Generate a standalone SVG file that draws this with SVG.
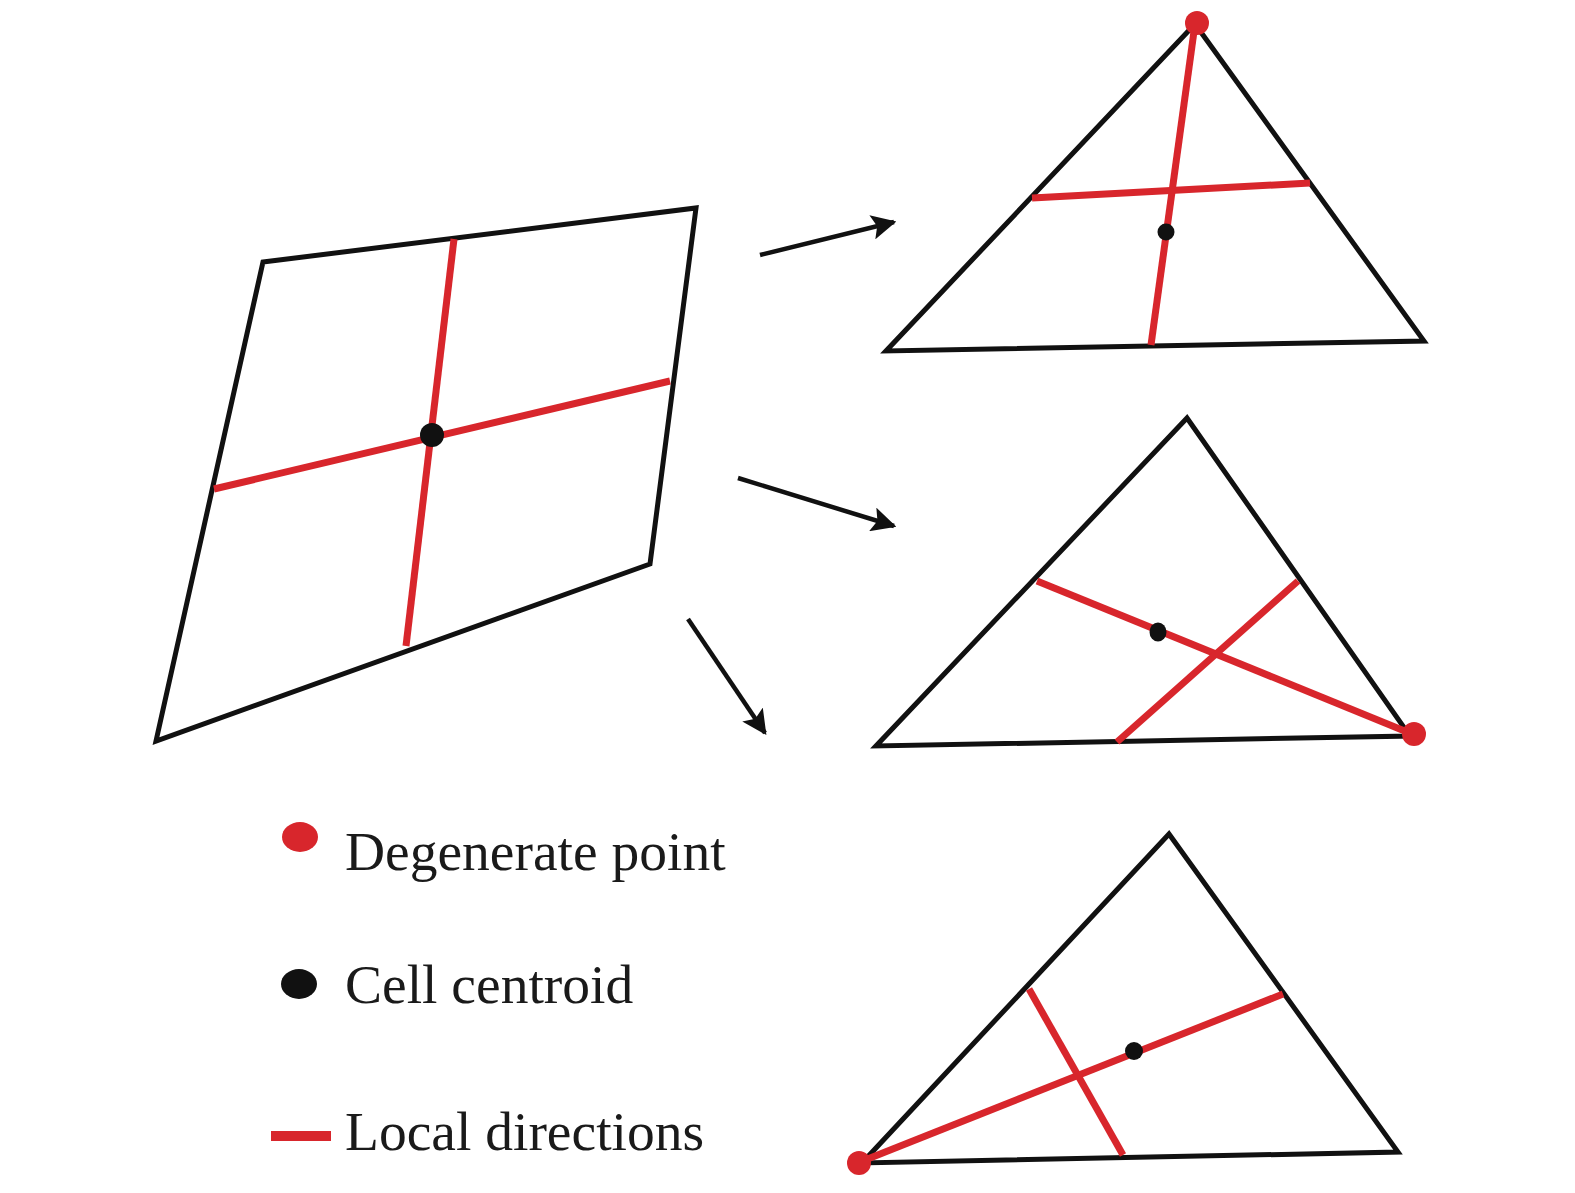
<svg xmlns="http://www.w3.org/2000/svg" width="1575" height="1193" viewBox="0 0 1575 1193">
<defs>
<style>
.cell{fill:none;stroke:#111;stroke-width:5;stroke-linejoin:miter}
.dir{stroke:#d8262c;stroke-width:7;stroke-linecap:butt}
.deg{fill:#d8262c}
.cen{fill:#111}
.arr{stroke:#111;stroke-width:4.5;fill:none}
.lbl{font-family:"Liberation Serif","Times New Roman",serif;font-size:55.5px;fill:#1a1a1a}
</style>
<marker id="ah" viewBox="0 0 10 10" refX="9" refY="5" markerWidth="5.5" markerHeight="5.5" markerUnits="strokeWidth" orient="auto">
<path d="M0,0 L10,5 L0,10 L2,5 Z" fill="#111"/>
</marker>
</defs>
<rect width="1575" height="1193" fill="#fff"/>

<g id="quad">
<polygon class="cell" points="263,262 696,208 650,564 156,741"/>
<line class="dir" x1="454" y1="239" x2="406" y2="646"/>
<line class="dir" x1="214" y1="489" x2="670" y2="381"/>
<circle class="cen" cx="432" cy="435" r="12"/>
</g>

<g id="tri1">
<polygon class="cell" points="1195,24 886,351 1424,341"/>
<line class="dir" x1="1195" y1="24" x2="1151" y2="345"/>
<line class="dir" x1="1032" y1="198" x2="1310" y2="183"/>
<circle class="cen" cx="1166" cy="232" r="8.5"/>
<circle class="deg" cx="1197" cy="23" r="12"/>
</g>

<g id="tri2">
<polygon class="cell" points="1187,418 876,746 1410,736"/>
<line class="dir" x1="1037" y1="581" x2="1412" y2="734"/>
<line class="dir" x1="1298" y1="581" x2="1117" y2="742"/>
<ellipse class="cen" cx="1158" cy="632" rx="8.5" ry="9.5"/>
<circle class="deg" cx="1414" cy="734" r="12"/>
</g>

<g id="tri3">
<polygon class="cell" points="1169,834 862,1163 1398,1152"/>
<line class="dir" x1="860" y1="1162" x2="1283" y2="994"/>
<line class="dir" x1="1029" y1="989" x2="1123" y2="1155"/>
<circle class="cen" cx="1134" cy="1051" r="9"/>
<circle class="deg" cx="859" cy="1163" r="12"/>
</g>

<g id="connectors">
<line class="arr" x1="760" y1="255" x2="894" y2="222" marker-end="url(#ah)"/>
<line class="arr" x1="738" y1="478" x2="894" y2="526" marker-end="url(#ah)"/>
<line class="arr" x1="688" y1="619" x2="765" y2="733" marker-end="url(#ah)"/>
</g>

<g id="legend">
<ellipse class="deg" cx="300" cy="837" rx="18" ry="15"/>
<text class="lbl" x="345" y="870">Degenerate point</text>
<ellipse class="cen" cx="299" cy="984" rx="18" ry="15"/>
<text class="lbl" x="345" y="1003">Cell centroid</text>
<rect class="deg" x="271" y="1131" width="60" height="10"/>
<text class="lbl" x="345" y="1150">Local directions</text>
</g>
</svg>
